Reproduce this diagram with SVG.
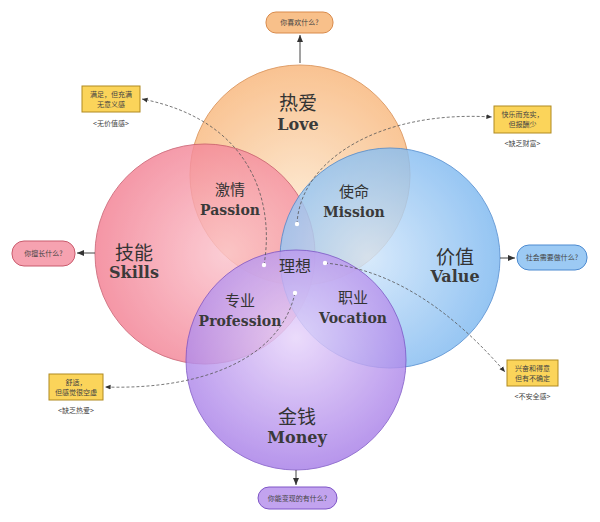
<svg xmlns="http://www.w3.org/2000/svg" width="600" height="522" viewBox="0 0 600 522">
<defs>
<marker id="ah" markerWidth="8" markerHeight="8" refX="7" refY="4" orient="auto"><path d="M0,1 L7,4 L0,7 Z" fill="#333"/></marker>
<radialGradient id="gl" cx="0.5" cy="0.6" r="0.6"><stop offset="0" stop-color="#fde2c4"/><stop offset="1" stop-color="#f8b67a"/></radialGradient>
<radialGradient id="gs" cx="0.6" cy="0.5" r="0.6"><stop offset="0" stop-color="#fbc3cc"/><stop offset="1" stop-color="#f37f92"/></radialGradient>
<radialGradient id="gv" cx="0.4" cy="0.5" r="0.6"><stop offset="0" stop-color="#cfe5fb"/><stop offset="1" stop-color="#7db8f0"/></radialGradient>
<radialGradient id="gm" cx="0.5" cy="0.4" r="0.6"><stop offset="0" stop-color="#e7d4fb"/><stop offset="1" stop-color="#a77ee8"/></radialGradient>
</defs>
<style>
.c{stroke-width:1;opacity:0.82}
.zh{font-family:"Noto Sans CJK SC",sans-serif;fill:#333;text-anchor:middle}
.en{font-family:"DejaVu Serif","Liberation Serif",serif;font-weight:bold;fill:#3a3a3a;text-anchor:middle}
.sm{font-family:"Noto Sans CJK SC",sans-serif;font-size:7px;fill:#444;text-anchor:middle}
.box{fill:#fbd45a;stroke:#b08a20;stroke-width:1}
.dash{fill:none;stroke:#555;stroke-width:0.8;stroke-dasharray:3,2;marker-end:url(#ah)}
.solid{fill:none;stroke:#444;stroke-width:1;marker-end:url(#ah)}
.dot{fill:#fff}
</style>
<g id="circles">
<circle id="love" class="c" cx="300" cy="175" r="110" fill="url(#gl)" stroke="#d98a4a"/>
<circle id="skills" class="c" cx="205" cy="254" r="110" fill="url(#gs)" stroke="#c95a6c"/>
<circle id="value" class="c" cx="390" cy="258" r="110" fill="url(#gv)" stroke="#4c8ad0"/>
<circle id="money" class="c" cx="296" cy="360" r="110" fill="url(#gm)" stroke="#7e55c7"/>
</g>
<g id="labels">
<text class="zh" x="298" y="110" font-size="19">热爱</text><text class="en" x="298" y="130" font-size="16">Love</text>
<text class="zh" x="134" y="260" font-size="19">技能</text><text class="en" x="134" y="278" font-size="16">Skills</text>
<text class="zh" x="455" y="264" font-size="19">价值</text><text class="en" x="455" y="282" font-size="16">Value</text>
<text class="zh" x="297" y="424" font-size="19">金钱</text><text class="en" x="297" y="443" font-size="16">Money</text>
<text class="zh" x="230" y="195" font-size="15">激情</text><text class="en" x="230" y="215" font-size="14">Passion</text>
<text class="zh" x="354" y="197" font-size="15">使命</text><text class="en" x="354" y="217" font-size="14">Mission</text>
<text class="zh" x="240" y="306" font-size="15">专业</text><text class="en" x="240" y="326" font-size="14">Profession</text>
<text class="zh" x="353" y="303" font-size="15">职业</text><text class="en" x="353" y="323" font-size="14">Vocation</text>
<text class="zh" x="295" y="272" font-size="16">理想</text>
</g>
<g id="nodes">
<g id="q-love"><rect x="266" y="12" width="67" height="21" rx="10" fill="#f8c08a" stroke="#d98a4a"/><text class="sm" x="299.5" y="25">你喜欢什么?</text></g>
<g id="q-skills"><rect x="12" y="241" width="63" height="25" rx="12" fill="#f6a2b0" stroke="#c95a6c"/><text class="sm" x="43.5" y="256">你擅长什么?</text></g>
<g id="q-value"><rect x="517" y="245" width="70" height="25" rx="12" fill="#9ccaf4" stroke="#4c8ad0"/><text class="sm" x="552" y="260">社会需要做什么?</text></g>
<g id="q-money"><rect x="258" y="487" width="79" height="22" rx="11" fill="#c2a3ef" stroke="#7e55c7"/><text class="sm" x="297.5" y="501">你能变现的有什么?</text></g>
<g id="b1"><rect class="box" x="82" y="86" width="58" height="26"/><text class="sm" x="111" y="97">满足，但充满</text><text class="sm" x="111" y="107">无意义感</text><text class="sm" x="111" y="126">&lt;无价值感&gt;</text></g>
<g id="b2"><rect class="box" x="494" y="106" width="57" height="27"/><text class="sm" x="522.5" y="117">快乐而充实，</text><text class="sm" x="522.5" y="127">但报酬少</text><text class="sm" x="522.5" y="146">&lt;缺乏财富&gt;</text></g>
<g id="b3"><rect class="box" x="49" y="374" width="54" height="26"/><text class="sm" x="76" y="385">舒适，</text><text class="sm" x="76" y="395">但感觉很空虚</text><text class="sm" x="76" y="413">&lt;缺乏热爱&gt;</text></g>
<g id="b4"><rect class="box" x="507" y="360" width="51" height="26"/><text class="sm" x="532.5" y="371">兴奋和得意</text><text class="sm" x="532.5" y="381">但有不确定</text><text class="sm" x="532.5" y="399">&lt;不安全感&gt;</text></g>
</g>
<g id="connectors">
<line class="solid" x1="300" y1="63" x2="300" y2="35"/>
<line class="solid" x1="95" y1="253" x2="77" y2="253"/>
<line class="solid" x1="500" y1="258" x2="515" y2="258"/>
<line class="solid" x1="296" y1="470" x2="296" y2="485"/>
<path class="dash" d="M264,265 C275,200 250,120 142,99"/>
<path class="dash" d="M297,224 C300,160 380,110 492,117"/>
<path class="dash" d="M295,293 C280,360 200,390 105,387"/>
<path class="dash" d="M325,263 C400,270 460,320 505,372"/>
<circle class="dot" cx="264" cy="265" r="2.2"/><circle class="dot" cx="297" cy="224" r="2.2"/>
<circle class="dot" cx="295" cy="293" r="2.2"/><circle class="dot" cx="325" cy="263" r="2.2"/>
</g>
</svg>
